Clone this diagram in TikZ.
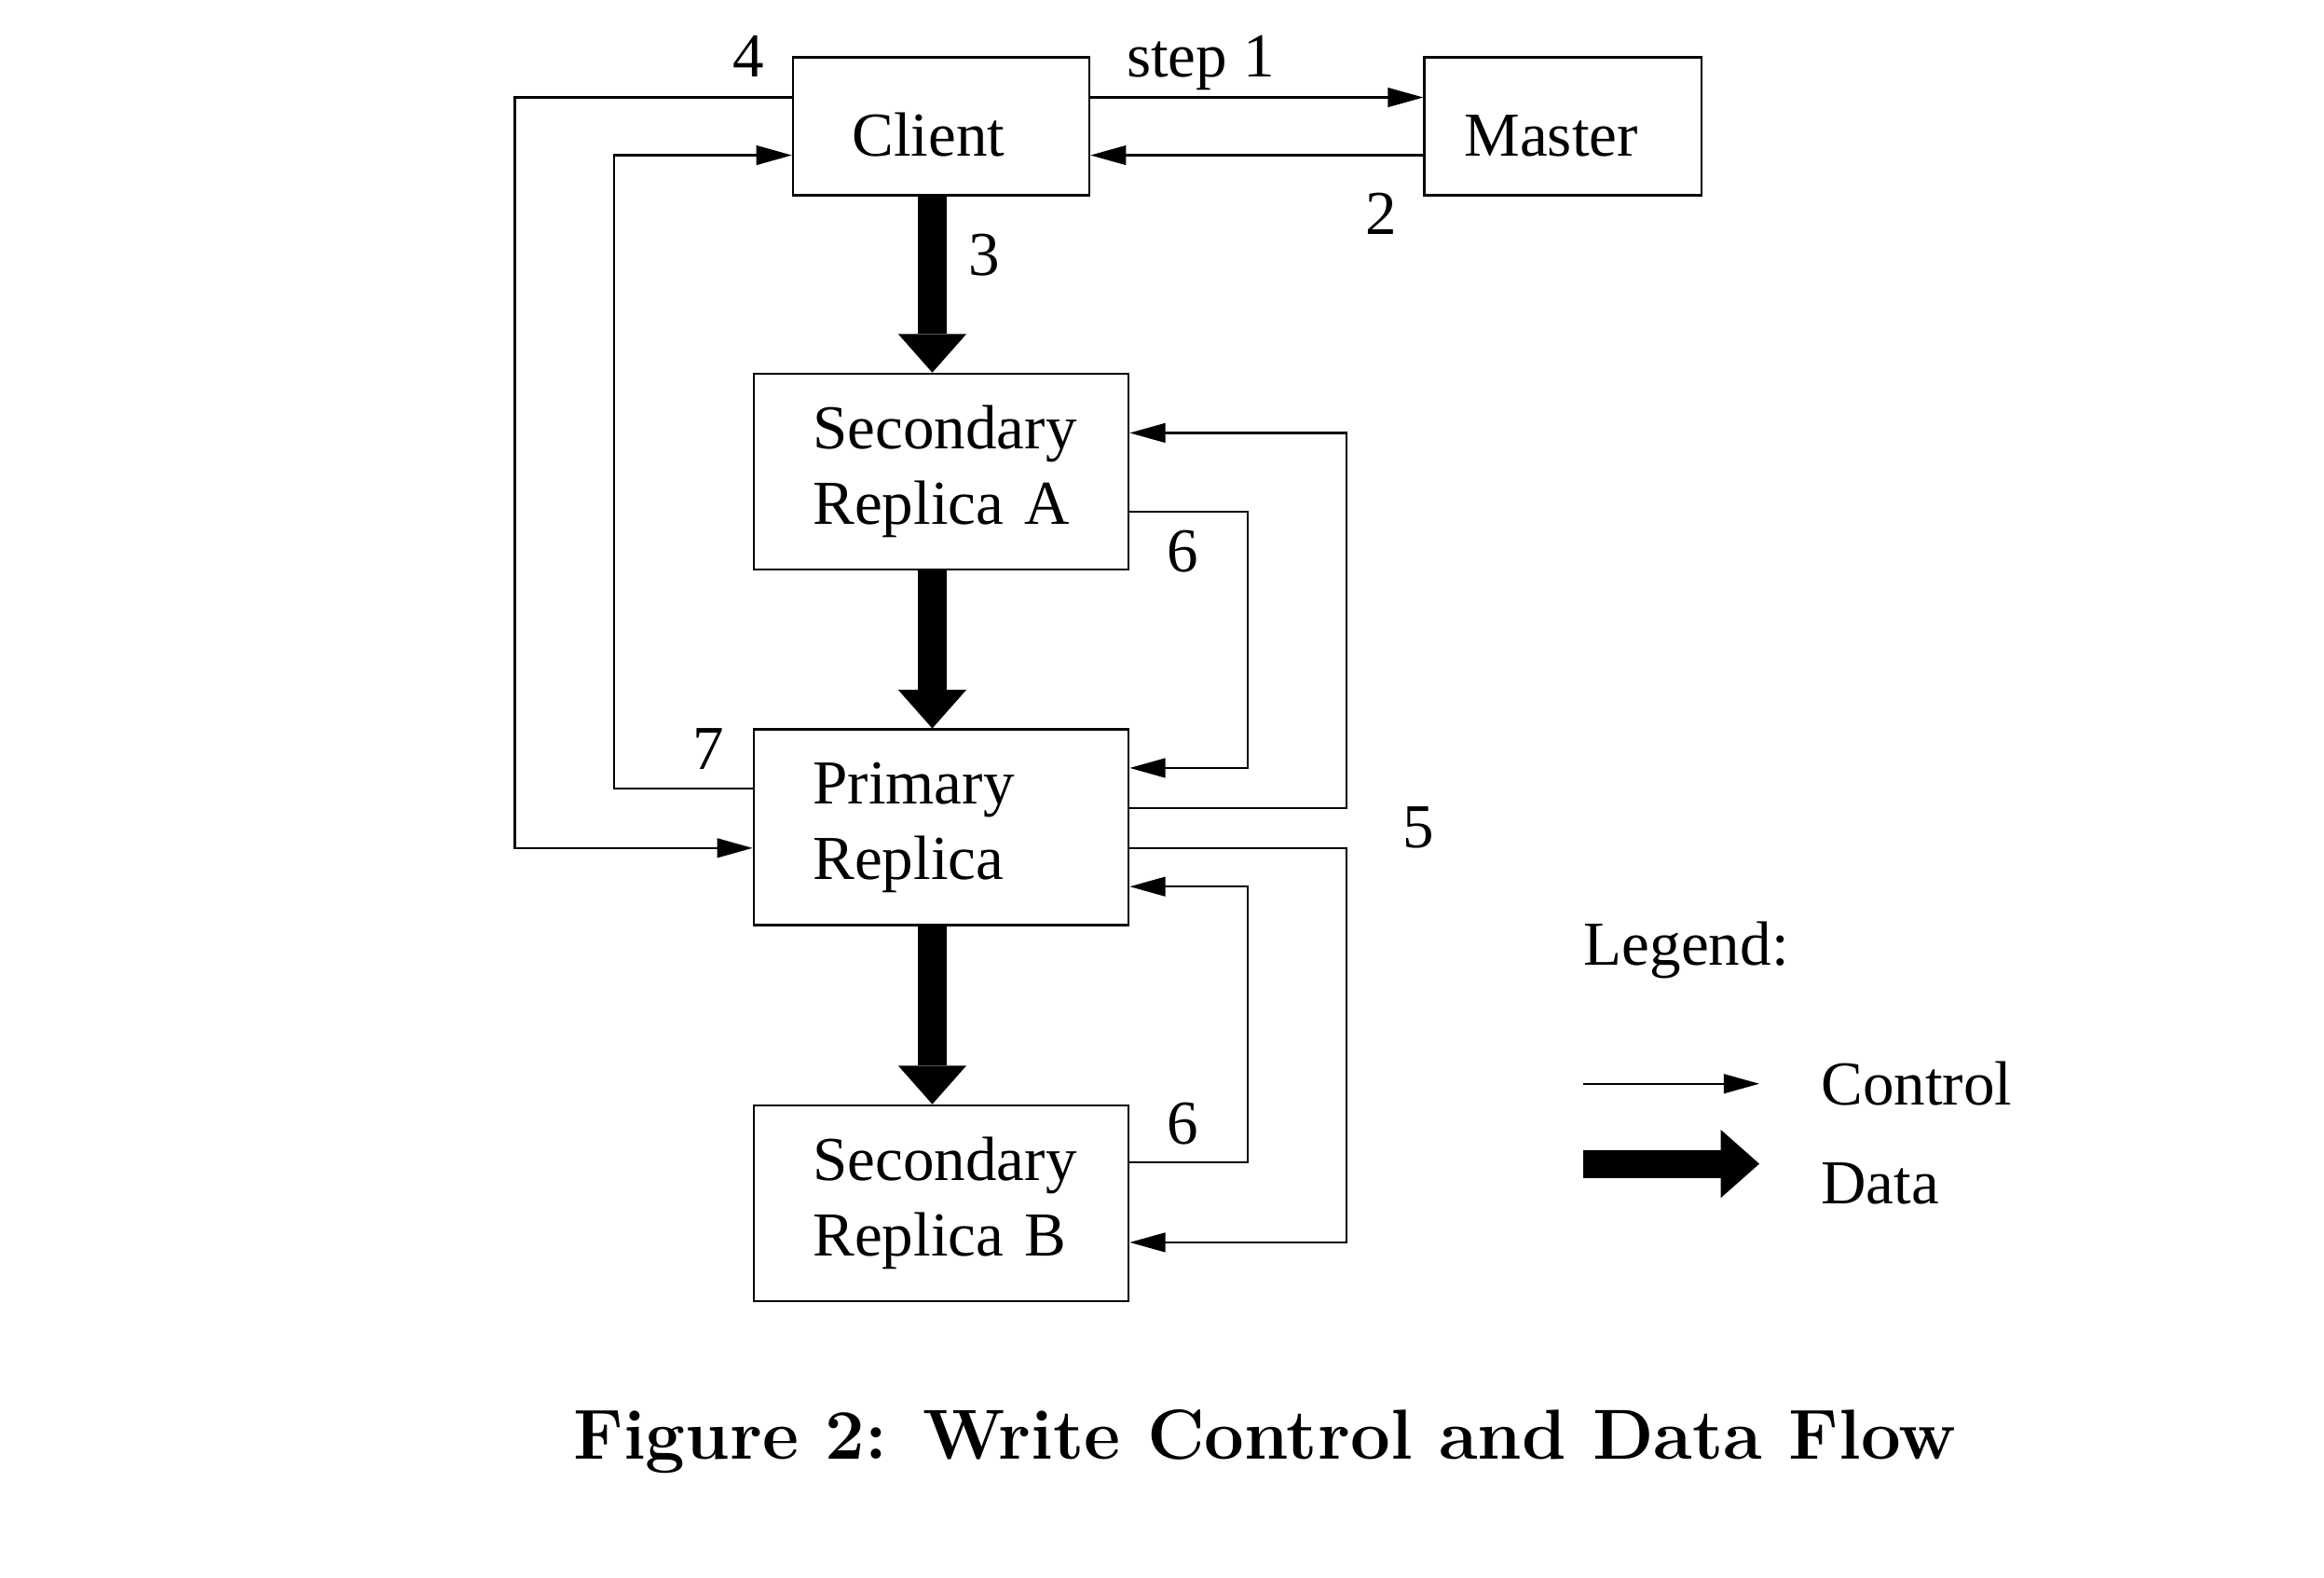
\documentclass[tikz,border=0pt]{standalone}
\usepackage{fontspec}
\newfontfamily\diagfont{Liberation Serif}
\usepackage{tikz}
\usetikzlibrary{arrows.meta,positioning}

\begin{document}
\begin{tikzpicture}[font=\diagfont\fontsize{12}{14.5}\selectfont]
\tikzstyle{every node}+=[inner sep=0pt]
\tikzstyle{box}=[draw=black, line width=0.4pt]
\tikzstyle{small}=[box, minimum height=0.93cm, text height=0.4cm, align=left]
\tikzstyle{replica}=[box, minimum width=2.53cm, minimum height=1.32cm, text width=1.73cm, inner xsep=0.4cm, align=left]
\tikzstyle{ctrl}=[black, line width=0.4pt, -{Triangle[length=2.4mm, width=1.3mm]}]
\tikzstyle{data}=[black, line width=1.9mm, -{Triangle[length=2.6mm, width=4.6mm, line width=0pt]}]
\tikzstyle{num}=[anchor=base]
\useasboundingbox (0,0) rectangle (15.68,-10.64);
\node [small, text width=1.2cm, inner xsep=0.4cm] (client) at (6.35,-0.852) {Client};
\node [small, text width=1.33cm, inner xsep=0.27cm] (master) at (10.545,-0.852) {Master};
\node [replica] (seca) at (6.35,-3.18) {\mbox{Secondary}\\\mbox{Replica A}};
\node [replica] (primary) at (6.35,-5.58) {Primary\\Replica};
\node [replica] (secb) at (6.35,-8.115) {\mbox{Secondary}\\\mbox{Replica B}};
\draw [ctrl] ([yshift=1.95mm]client.east) -- ([yshift=1.95mm]master.west);
\draw [ctrl] ([yshift=-1.95mm]master.west) -- ([yshift=-1.95mm]client.east);
\draw [ctrl] ([yshift=1.95mm]client.west) -- ++(-1.87,0) |- ([yshift=-1.4mm]primary.west);
\draw [ctrl] ([yshift=2.6mm]primary.west) -- ++(-0.935,0) |- ([yshift=-1.95mm]client.west);
\draw [ctrl] ([yshift=-2.7mm]seca.east) -- ++(0.795,0) |- ([yshift=4mm]primary.east);
\draw [ctrl] ([yshift=1.3mm]primary.east) -- ++(1.465,0) |- ([yshift=2.6mm]seca.east);
\draw [ctrl] ([yshift=-1.4mm]primary.east) -- ++(1.465,0) |- ([yshift=-2.65mm]secb.east);
\draw [ctrl] ([yshift=2.75mm]secb.east) -- ++(0.795,0) |- ([yshift=-4mm]primary.east);
\draw [data] ([xshift=-0.6mm]client.south) -- ([xshift=-0.6mm]seca.north);
\draw [data] ([xshift=-0.6mm]seca.south) -- ([xshift=-0.6mm]primary.north);
\draw [data] ([xshift=-0.6mm]primary.south) -- ([xshift=-0.6mm]secb.north);
\node [num] (l4) at (5.05,-0.52) {4};
\node [num] (l1) at (8.10,-0.52) {step 1};
\node [num] (l2) at (9.32,-1.58) {2};
\node [num] (l3) at (6.64,-1.86) {3};
\node [num] (l6a) at (7.98,-3.86) {6};
\node [num] (l7) at (4.78,-5.19) {7};
\node [num] (l5) at (9.57,-5.72) {5};
\node [num] (l6b) at (7.98,-7.72) {6};
\node [anchor=base west] (legend) at (10.68,-6.51) {Legend:};
\coordinate (ctrla) at (10.68,-7.31);
\coordinate (ctrlb) at (11.87,-7.31);
\draw [ctrl] (ctrla) -- (ctrlb);
\node [anchor=base west] (ctrltext) at (12.28,-7.45) {Control};
\coordinate (dataa) at (10.68,-7.85);
\coordinate (datab) at (11.87,-7.85);
\draw [data] (dataa) -- (datab);
\node [anchor=base west] (datatext) at (12.28,-8.12) {Data};
\node [anchor=base, font=\normalfont\fontsize{13.6}{16}\selectfont\bfseries] (caption) at (8.535,-9.84) {Figure 2: Write Control and Data Flow};
\end{tikzpicture}
\end{document}
